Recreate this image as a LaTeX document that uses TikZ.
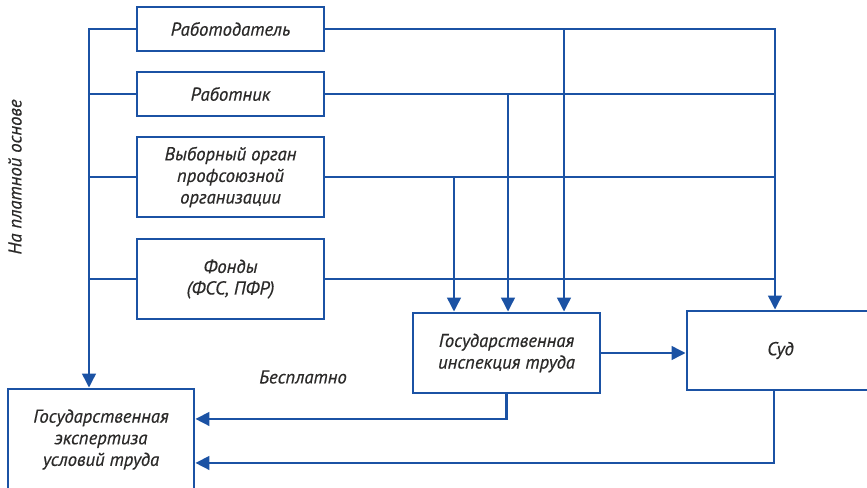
\documentclass[tikz,border=0pt]{standalone}
\usepackage{fontspec}
\setmainfont{PT Sans}[ItalicFeatures={FakeBold=0.5}]
\usepackage{xcolor}
\usetikzlibrary{arrows.meta}
\definecolor{schemeblue}{HTML}{1B52A4}
\definecolor{schemetext}{HTML}{2B2A29}

\begin{document}
\begin{tikzpicture}[x=0.75pt,y=-0.75pt,
	box/.style={draw=schemeblue,line width=2pt,fill=white,inner sep=0pt,
		minimum width=187*0.75pt,align=center,text=schemetext,
		font=\itshape\fontsize{14pt}{16.2pt}\selectfont},
	link/.style={schemeblue,line width=2.2pt},
	arr/.style={link,-{Triangle[length=10.5pt,width=10pt]}},
	note/.style={text=schemetext,font=\itshape\fontsize{14pt}{16pt}\selectfont}]
	
	\useasboundingbox (0,0) rectangle (867,488);
	\clip (0,0) rectangle (867,488);
	
	% columns of the connectors
	\coordinate (lcol) at (89,0);
	\coordinate (rcol) at (775,0);
	\coordinate (brA) at (564,0);
	\coordinate (brB) at (508,0);
	\coordinate (brC) at (454,0);
	\coordinate (sudcol) at (774,0);
	
	% (payers)
	\node[box,minimum height=44*0.75pt] (rab) at (230.5,29) {Работодатель};
	\node[box,minimum height=44*0.75pt] (rabnik) at (230.5,94) {Работник};
	\node[box,minimum height=80*0.75pt] (vyb) at (230.5,177) {Выборный орган\\профсоюзной\\организации};
	\node[box,minimum height=80*0.75pt] (fond) at (230.5,279) {Фонды\\(ФСС, ПФР)};
	
	% (control bodies)
	\node[box,minimum height=80*0.75pt] (insp) at (506.5,353) {Государственная\\инспекция труда};
	\node[box,minimum height=79*0.75pt] (sud) at (780.5,350.5) {Суд};
	\node[box,minimum width=186*0.75pt,minimum height=101*0.75pt] (eksp) at (101,439.5) {Государственная\\экспертиза\\условий труда};
	
	\node[note] (free) at (303,377) {Бесплатно};
	\node[note,rotate=90] (paid) at (15,177) {На платной основе};
	
	% left side
	\draw[arr] (rab.west) -| (lcol |- eksp.north);
	\draw[link] (rabnik.west) -- (lcol |- rabnik.west);
	\draw[link] (vyb.west) -- (lcol |- vyb.west);
	\draw[link] (fond.west) -- (lcol |- fond.west);
	
	% right side
	\draw[arr] (rab.east) -| (rcol |- sud.north);
	\draw[link] (rabnik.east) -- (rcol |- rabnik.east);
	\draw[link] (vyb.east) -- (rcol |- vyb.east);
	\draw[link] (fond.east) -- (rcol |- fond.east);
	\draw[arr] (brA |- rab.east) -- (brA |- insp.north);
	\draw[arr] (brB |- rabnik.east) -- (brB |- insp.north);
	\draw[arr] (brC |- vyb.east) -- (brC |- insp.north);
	
	% bottom
	\draw[arr] (insp.east) -- (insp.east -| sud.west);
	\draw[arr] (insp.south) |- ([yshift=15.4pt]eksp.east);
	\draw[arr] (sudcol |- sud.south) |- ([yshift=-17.6pt]eksp.east);

\end{tikzpicture}
\end{document}
